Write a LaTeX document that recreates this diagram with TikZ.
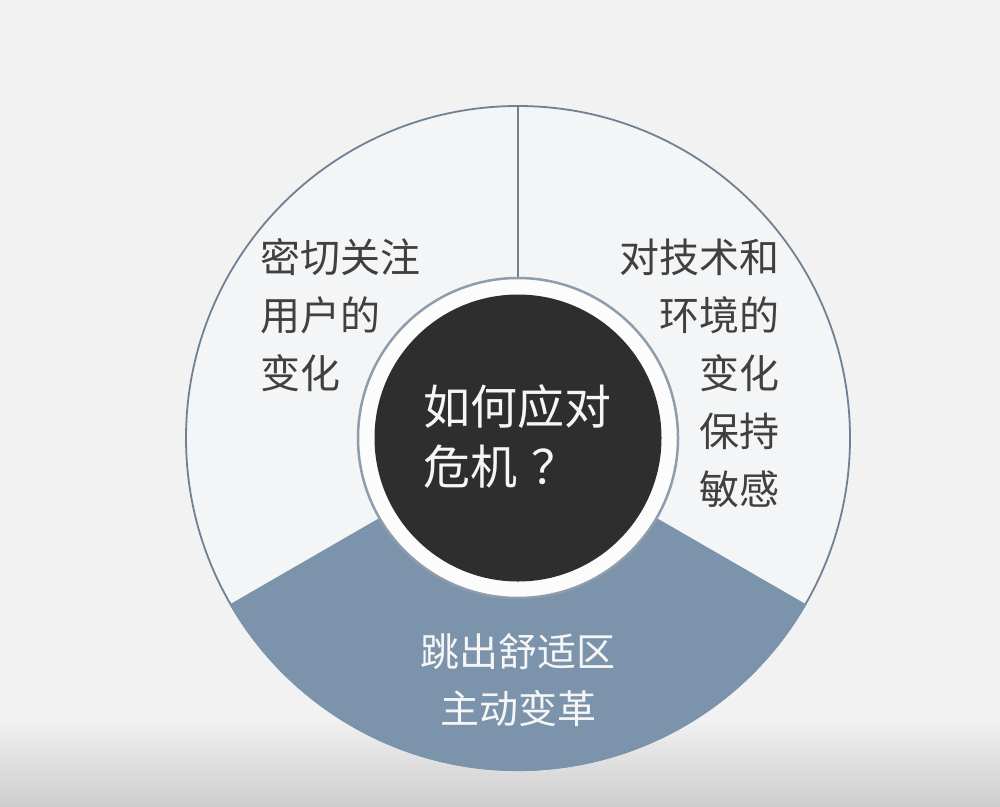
\documentclass[tikz,border=0pt]{standalone}
\usepackage{fontspec}
\usetikzlibrary{calc}
\setmainfont{Noto Sans CJK SC}
\definecolor{bgc}{HTML}{F2F2F2}
\definecolor{bandc}{HTML}{CDCDCD}
\definecolor{segc}{HTML}{F4F5F6}
\definecolor{rimc}{HTML}{6F8193}
\definecolor{bluec}{HTML}{7B93AB}
\definecolor{ringc}{HTML}{8F9CAB}
\definecolor{darkc}{HTML}{2E2E2E}
\definecolor{txtc}{HTML}{404040}
\definecolor{wtxt}{HTML}{F6F6F6}
\tikzset{
  seglabel/.style={inner sep=0pt, text=txtc, font=\fontsize{40}{58}\selectfont},
  corelabel/.style={inner sep=0pt, text=wtxt, font=\fontsize{47}{60}\selectfont},
  bluelabel/.style={inner sep=0pt, text=wtxt, font=\fontsize{39}{57}\selectfont},
  divider/.style={draw=rimc, line width=2pt},
}
\begin{document}
\begin{tikzpicture}[x=1pt,y=-1pt]
\path[use as bounding box] (0,0) rectangle (1000,806);
\fill[bgc] (0,0) rectangle (1000,806);
\shade[top color=bgc, bottom color=bandc] (0,718) rectangle (1000,806);
\coordinate (c) at (518,438);
% outer disc
\node[circle, minimum size=664pt, inner sep=0pt, fill=segc, draw=rimc, line width=1.8pt] (outer) at (c) {};
% blue sector (bottom third)
\fill[bluec] (c) -- ++(30:333) arc[start angle=30, end angle=150, radius=333] -- cycle;
% vertical divider
\coordinate (topin) at ($(c)+(270:160)$);
\coordinate (topout) at ($(c)+(270:332)$);
\draw[divider] (topin) -- (topout);
% white ring and core
\node[circle, minimum size=320pt, inner sep=0pt, fill=white!70!segc, draw=ringc, line width=2.5pt] (ring) at (c) {};
\node[circle, minimum size=287pt, inner sep=0pt, fill=darkc] (core) at (c) {};
% labels (base anchor = baseline of last line)
\node[seglabel, align=left, anchor=base west] (left) at (260,388) {密切关注\\用户的\\变化};
\node[seglabel, align=right, anchor=base east] (right) at (780,504) {对技术和\\环境的\\变化\\保持\\敏感};
\node[corelabel, align=left, anchor=base west] (q) at (423,484) {如何应对\\危机\hspace{0.3em}？};
\node[bluelabel, align=center, anchor=base] (bottom) at (518,723) {跳出舒适区\\主动变革};
\end{tikzpicture}
\end{document}
